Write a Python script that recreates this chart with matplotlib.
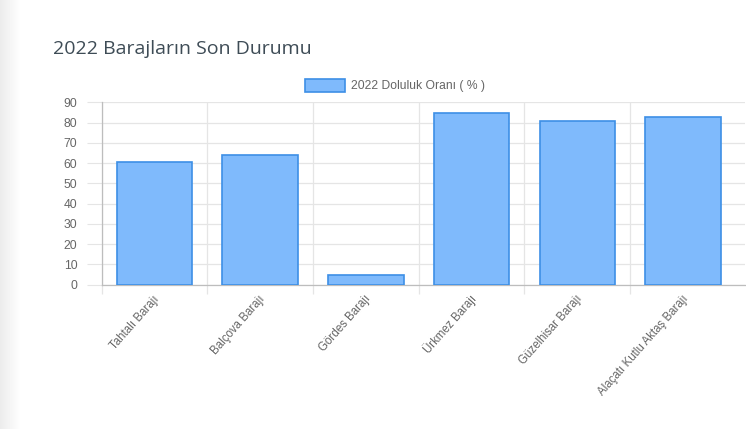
import numpy as np
import matplotlib
matplotlib.use("Agg")
import matplotlib.pyplot as plt
from matplotlib.patches import Rectangle
import matplotlib.transforms as mtrans

categories = ["Tahtalı Barajı", "Balçova Barajı", "Gördes Barajı", "Ürkmez Barajı",
              "Güzelhisar Barajı", "Alaçatı Kutlu Aktaş Barajı"]
values = [60.4, 63.9, 4.9, 84.6, 80.6, 82.6]
yticks = [0, 10, 20, 30, 40, 50, 60, 70, 80, 90]
title = "2022 Barajların Son Durumu"
legend_label = "2022 Doluluk Oranı ( % )"

W, H = 746, 429
fig = plt.figure(figsize=(W / 100, H / 100), dpi=100)
fig.patch.set_facecolor("white")

# left page shading
gax = fig.add_axes([0, 0, 20 / W, 1])
grad = np.linspace(0, 1, 64)[None, :]
gax.imshow(grad, aspect="auto", cmap=matplotlib.colors.LinearSegmentedColormap.from_list(
    "g", ["#ececec", "#ffffff"]), extent=[0, 1, 0, 1])
gax.axis("off")

fill = "#7fbafc"
edge = "#3d8fe6"
grid_c = "#e5e5e5"
txt_c = "#666666"

x0, x1 = 101.7, 745.0
ytop, ybot = 102.3, 284.5
cat_w = 105.7
ax = fig.add_axes([x0 / W, (H - ybot) / H, (x1 - x0) / W, (ybot - ytop) / H])
x = np.arange(len(categories))
ax.bar(x, values, width=0.715, color=fill, edgecolor=edge, linewidth=1.2, zorder=3)
ax.set_xlim(-0.5, -0.5 + (x1 - x0) / cat_w)
ax.set_ylim(0, 90)

ax.set_yticks(yticks)
ax.set_yticklabels([str(v) for v in yticks])
ax.tick_params(axis="y", length=10.5, color=grid_c, pad=7, labelsize=8.7, labelcolor=txt_c)
for t in ax.get_yticklabels():
    t.set_fontfamily("Liberation Sans")
ax.yaxis.grid(True, color=grid_c, linewidth=0.9, zorder=0)

ax.set_xticks(x)
ax.set_xticklabels(categories, rotation=48.5, ha="right", va="center",
                   rotation_mode="anchor", fontsize=8.3, color=txt_c,
                   fontfamily="Liberation Sans")
ax.tick_params(axis="x", which="major", length=0, pad=9)
offset = mtrans.ScaledTranslation(3 / 100, 0, fig.dpi_scale_trans)
for t in ax.get_xticklabels():
    t.set_transform(t.get_transform() + offset)
bounds = np.arange(-0.5, len(categories) - 1, 1.0)
ax.set_xticks(bounds, minor=True)
ax.tick_params(axis="x", which="minor", length=6.5, color=grid_c, width=0.9)
ax.xaxis.grid(True, which="minor", color=grid_c, linewidth=0.9, zorder=0)
ax.xaxis.grid(False, which="major")

for s in ["top", "right"]:
    ax.spines[s].set_visible(False)
ax.spines["left"].set_color("#bdbdbd")
ax.spines["bottom"].set_color("#bdbdbd")
ax.spines["left"].set_linewidth(0.9)
ax.spines["bottom"].set_linewidth(0.9)
ax.spines["left"].set_zorder(4)

# title
fig.text(53 / W, 1 - 49 / H, title, fontsize=14, color="#3e4c56",
         fontfamily="Open Sans", ha="left", va="center")

# legend
fig.patches.append(Rectangle((305 / W, 1 - 92 / H), 40 / W, 12.7 / H, transform=fig.transFigure,
                             facecolor=fill, edgecolor=edge, linewidth=1.2))
fig.text(351 / W, 1 - 85.5 / H, legend_label, fontsize=8.7, color=txt_c,
         fontfamily="Liberation Sans", ha="left", va="center")

fig.savefig("out.png", dpi=100)
